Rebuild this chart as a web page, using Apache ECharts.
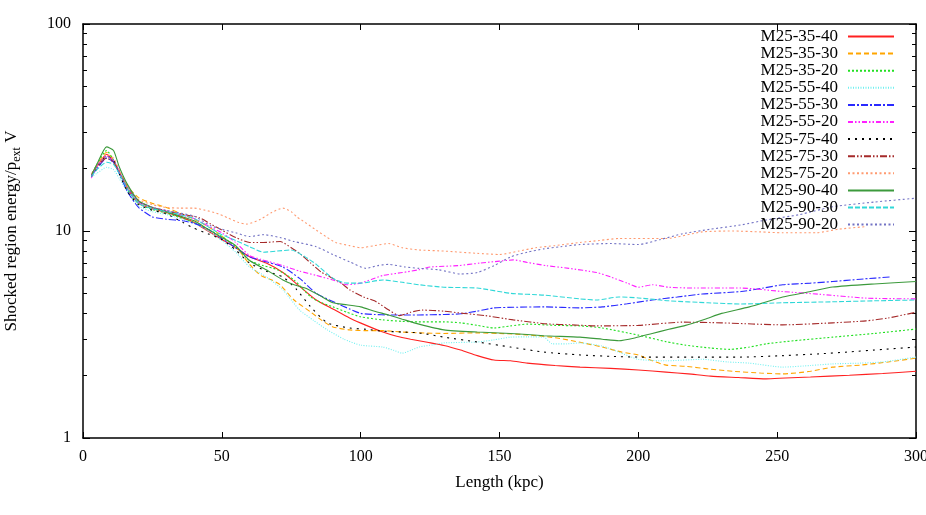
<!DOCTYPE html>
<html>
<head>
<meta charset="utf-8">
<script src="https://cdn.jsdelivr.net/npm/echarts/dist/echarts.min.js"></script>
<style>
html,body{margin:0;padding:0;background:#fff;}
#chart{width:926px;height:515px;}
</style>
</head>
<body>
<div id="chart"></div>
<script>
// ---- data (x = Length in kpc, y = Shocked region energy / p_ext V) ----
const M25_35_40 = [[3,18.8],[5,20.5],[8.5,23.5],[11,21.5],[13,19.3],[16,16],[20,13.6],[25,12.8],[30,12.3],[35,11.7],[40,11.0],[45,10.0],[50,9.1],[55,8.3],[60,7.5],[66,7.0],[72,6.3],[78,5.4],[84,4.64],[90,4.2],[96,3.8],[102,3.5],[108,3.25],[113,3.1],[118,3.0],[124,2.9],[130,2.8],[136,2.66],[142,2.5],[148,2.38],[154,2.36],[160,2.3],[170,2.24],[179,2.2],[190,2.17],[200,2.13],[210,2.08],[218,2.04],[226,1.99],[236,1.96],[246,1.93],[253,1.95],[262,1.97],[276,2.01],[288,2.05],[300,2.1]];
const M25_35_30 = [[3,18.6],[5,20.8],[8.5,24],[11,22],[13,19.5],[16,16.5],[20,14.5],[25,13.6],[30,13.0],[36,12.0],[40,11.4],[44,10.7],[48,9.9],[52,9.0],[56,8.1],[60,6.9],[64,6.1],[68,5.8],[71,5.5],[76,4.64],[82,4.06],[86,3.7],[90,3.44],[96,3.33],[102,3.3],[108,3.3],[115,3.25],[121,3.22],[130,3.2],[142,3.22],[150,3.2],[160,3.15],[170,3.05],[179,2.9],[187,2.75],[194,2.6],[200,2.52],[205,2.36],[210,2.25],[217,2.22],[226,2.15],[234,2.1],[244,2.06],[252,2.04],[262,2.1],[270,2.2],[280,2.25],[290,2.33],[300,2.43]];
const M25_35_20 = [[3,18.5],[5,21],[8.5,24.5],[11,22],[13,19],[16,15.8],[20,13.6],[25,12.7],[30,12.2],[35,11.6],[40,11.0],[45,10.2],[50,9.4],[55,8.4],[60,7.2],[65,6.8],[70,6.5],[76,5.8],[82,4.8],[86,4.5],[90,4.3],[95,4.05],[100,3.85],[108,3.72],[115,3.66],[121,3.64],[130,3.64],[136,3.6],[142,3.5],[148,3.4],[154,3.48],[160,3.55],[170,3.5],[179,3.48],[187,3.4],[200,3.14],[210,2.92],[217,2.81],[226,2.72],[233,2.68],[240,2.75],[246,2.85],[256,2.95],[270,3.07],[285,3.2],[300,3.36]];
const M25_55_40 = [[3,18.2],[5,19],[8.5,20.3],[11,19.8],[13,18],[16,15.5],[20,13.2],[25,12.4],[30,12],[35,11.5],[40,10.9],[45,10],[50,9.0],[55,7.9],[60,6.7],[66,6.0],[72,5.2],[78,4.15],[83,3.7],[88,3.33],[94,3.0],[100,2.81],[108,2.75],[112,2.65],[115,2.57],[118,2.65],[121,2.75],[126,2.82],[130,2.88],[142,2.91],[148,2.98],[154,3.07],[160,3.08],[166,3.07],[169,2.85],[174,2.85],[179,2.88],[187,2.78],[193,2.6],[200,2.4],[210,2.36],[223,2.4],[232,2.33],[240,2.3],[252,2.2],[262,2.24],[270,2.28],[280,2.3],[288,2.33],[300,2.46]];
const M25_55_30 = [[3,18.5],[5,20],[8.5,22.5],[11,21.5],[13,19],[16,15.5],[20,13],[25,11.7],[30,11.4],[36,11.2],[40,10.9],[45,10.2],[50,9.2],[55,8.3],[60,7.5],[66,7.1],[72,6.7],[78,5.9],[84,5.0],[91,4.5],[96,4.2],[100,4.0],[105,3.95],[110,3.93],[121,3.93],[130,3.95],[136,3.98],[142,4.1],[148,4.25],[155,4.28],[166,4.3],[179,4.25],[187,4.3],[196,4.45],[205,4.64],[214,4.8],[223,4.96],[237,5.1],[245,5.3],[252,5.5],[262,5.6],[270,5.7],[280,5.85],[291,6.0]];
const M25_55_20 = [[3,18],[5,20.5],[8.5,23],[11,22],[13,19.5],[16,16.2],[20,13.8],[25,13],[30,12.5],[35,12],[40,11.5],[45,10.6],[50,9.8],[55,8.8],[60,7.6],[64,7.3],[72,6.8],[78,6.4],[84,6.1],[90,5.8],[95,5.5],[100,5.6],[104,5.85],[108,6.1],[115,6.3],[121,6.5],[125,6.7],[135,6.8],[143,7.0],[150,7.15],[155,7.25],[160,7.05],[167,6.8],[175,6.6],[185,6.3],[190,6.0],[196,5.6],[200,5.35],[205,5.5],[211,5.35],[220,5.3],[237,5.3],[252,5.1],[265,4.95],[282,4.74],[300,4.7]];
const M25_75_40 = [[3,18.3],[5,20],[8.5,23],[11,22],[13,19],[16,15.5],[20,13.4],[25,12.6],[30,12.1],[36,11.0],[40,10.3],[45,9.7],[50,9.1],[55,8.1],[60,7.0],[66,6.4],[72,6.0],[77,5.2],[82,4.3],[88,3.6],[96,3.4],[102,3.35],[108,3.28],[115,3.25],[121,3.22],[130,3.07],[142,2.91],[154,2.75],[166,2.6],[179,2.52],[190,2.48],[200,2.46],[220,2.46],[237,2.46],[252,2.5],[265,2.55],[275,2.6],[288,2.68],[300,2.75]];
const M25_75_30 = [[3,18.6],[5,20.5],[8.5,22.5],[11,21.5],[13,19.5],[16,16.3],[20,13.9],[25,13],[30,12.5],[35,12.1],[42,11.6],[46,10.8],[50,10.1],[55,9.3],[60,8.8],[65,8.8],[71,8.9],[75,8.3],[78,7.8],[82,7.0],[86,6.3],[89,6.0],[93,5.6],[96,5.2],[101,4.8],[105,4.6],[109,4.25],[114,3.9],[118,4.05],[122,4.15],[130,4.1],[137,4.0],[145,3.9],[155,3.72],[167,3.56],[176,3.52],[185,3.48],[200,3.5],[216,3.63],[230,3.6],[252,3.52],[270,3.6],[282,3.68],[290,3.8],[300,4.05]];
const M25_75_20 = [[3,18.8],[5,20.8],[8.5,23.5],[11,22.5],[13,19.8],[16,16.5],[20,14.2],[25,13.4],[30,13.0],[35,12.9],[40,12.9],[44,12.6],[48,12.2],[52,11.6],[56,11.0],[59,10.8],[64,11.4],[68,12.3],[72,12.9],[75,12.4],[77,11.7],[80,11.0],[84,10.1],[88,9.3],[91,8.8],[96,8.5],[100,8.3],[105,8.5],[110,8.7],[115,8.3],[121,8.1],[130,8.0],[142,7.8],[150,7.7],[157,8.0],[163,8.3],[170,8.5],[179,8.8],[186,9.0],[193,9.2],[210,9.2],[223,9.9],[234,10.0],[244,9.9],[252,9.8],[264,9.8],[272,10.2],[282,10.5]];
const M25_90_40 = [[3,18.5],[5,21],[8.5,25.5],[11,24.5],[13,20.5],[16,16.8],[20,14],[25,13],[30,12.4],[35,11.8],[40,11.2],[45,10.2],[50,9.3],[55,8.5],[60,7.2],[66,6.5],[72,5.8],[76,5.5],[80,5.3],[85,4.9],[90,4.5],[95,4.4],[100,4.3],[105,4.1],[110,3.93],[115,3.75],[121,3.55],[130,3.33],[142,3.25],[154,3.2],[166,3.12],[179,3.07],[187,3.0],[193,2.95],[199,3.05],[205,3.2],[211,3.35],[217,3.5],[224,3.75],[230,4.0],[240,4.3],[252,4.8],[262,5.1],[270,5.36],[285,5.55],[300,5.7]];
const M25_90_30 = [[3,18.3],[5,19.8],[8.5,21.5],[11,21],[13,19],[16,16],[20,13.6],[25,12.8],[30,12.4],[35,12],[40,11.5],[45,10.5],[50,9.6],[55,9.0],[60,8.4],[65,7.9],[70,8.0],[75,8.1],[80,7.5],[84,6.9],[88,6.2],[91,5.8],[95,5.6],[100,5.6],[108,5.8],[115,5.65],[121,5.5],[130,5.35],[142,5.3],[154,5.0],[166,4.9],[179,4.7],[185,4.64],[193,4.8],[200,4.75],[211,4.6],[225,4.5],[237,4.44],[252,4.5],[270,4.55],[285,4.6],[300,4.64]];
const M25_90_20 = [[3,18.5],[5,20.3],[8.5,23],[11,22],[13,19.3],[16,16.2],[20,13.9],[25,13],[30,12.6],[35,12.2],[40,11.8],[46,10.6],[50,10.2],[55,9.8],[60,9.4],[65,9.6],[71,9.3],[76,8.9],[84,8.4],[90,7.7],[96,7.1],[102,6.6],[106,6.8],[110,6.9],[116,6.7],[121,6.6],[128,6.5],[136,6.2],[142,6.3],[148,6.8],[154,7.5],[160,7.9],[166,8.2],[172,8.4],[179,8.6],[190,8.7],[200,8.6],[208,9.1],[216,9.7],[226,10.2],[237,10.7],[246,11.3],[258,12.0],[270,13.1],[285,13.8],[300,14.4]];

const seriesNames = ['M25-35-40','M25-35-30','M25-35-20','M25-55-40','M25-55-30','M25-55-20','M25-75-40','M25-75-30','M25-75-20','M25-90-40','M25-90-30','M25-90-20'];
const seriesData = [M25_35_40,M25_35_30,M25_35_20,M25_55_40,M25_55_30,M25_55_20,M25_75_40,M25_75_30,M25_75_20,M25_90_40,M25_90_30,M25_90_20];

const xTicks = [0,50,100,150,200,250,300];
const yMajorTicks = [1,10,100];
const yMinorTicks = [2,3,4,5,6,7,8,9,20,30,40,50,60,70,80,90];

// ---- styles ----
const colors = ['#ff2020','#ffa500','#22e022','#70f0f0','#2a2aff','#ff20ff','#000000','#a52a2a','#ff9a70','#3c9a3c','#30d8d8','#7272c4'];
const dashes = ['solid',[5,3],[2,2],[1,1.5],[7,2,2,2],[5,2,1.5,2,1.5,2],[2,5],[7,2,1.5,2,1.5,2],[2,2.5],'solid',[5,2],[2,2.5]];

const FONT = 'Liberation Serif';

const chart = echarts.init(document.getElementById('chart'), null, {renderer:'canvas'});

function xAx(pos, showLabel){
  return {
    type:'value', position:pos, min:0, max:300, interval:50,
    axisLine:{show:true, onZero:false, lineStyle:{color:'#000', width:1.5}},
    axisTick:{show:true, inside:true, length:6, lineStyle:{color:'#000', width:1}},
    axisLabel:{show:showLabel, fontFamily:FONT, fontSize:16, color:'#000', margin:11,
      customValues: xTicks},
    splitLine:{show:false},
    name: showLabel ? 'Length (kpc)' : '',
    nameLocation:'middle', nameGap:36,
    nameTextStyle:{fontFamily:FONT, fontSize:17, color:'#000'}
  };
}
function yAx(pos, major, withName){
  return {
    type:'log', logBase:10, position:pos, min:1, max:100,
    axisLine:{show:major, onZero:false, lineStyle:{color:'#000', width:1.5}},
    axisTick:{show:true, inside:true, length: major ? 7 : 4,
      customValues: major ? yMajorTicks : yMinorTicks,
      lineStyle:{color:'#000', width:1}},
    axisLabel:{show: withName, fontFamily:FONT, fontSize:16, color:'#000', margin:12,
      customValues: yMajorTicks},
    splitLine:{show:false},
    minorTick:{show:false},
    name: withName ? 'Shocked region energy/p{sub|ext} V' : '',
    nameLocation:'middle', nameGap:60,
    nameTextStyle:{fontFamily:FONT, fontSize:17, color:'#000', lineHeight:22,
      rich:{sub:{fontFamily:FONT, fontSize:12, color:'#000', verticalAlign:'bottom', lineHeight:14}}}
  };
}

const series = seriesNames.map((n,i)=>({
  name:n, type:'line', xAxisIndex:0, yAxisIndex:0,
  data: seriesData[i],
  symbol:'none', showSymbol:false, smooth:0.2, clip:true,
  lineStyle:{color:colors[i], width:1.1, type:dashes[i]},
  itemStyle:{color:colors[i]},
  emphasis:{disabled:true},
  z: 2
}));

chart.setOption({
  animation:false,
  backgroundColor:'#fff',
  grid:{left:83, top:24, width:833, height:414, containLabel:false, outerBoundsMode:'none'},
  xAxis:[xAx('bottom', true), xAx('top', false)],
  yAxis:[yAx('left', true, true), yAx('left', false, false), yAx('right', true, false), yAx('right', false, false)],
  legend:{
    data: seriesNames, orient:'vertical', align:'right',
    right:26, top:23, itemWidth:46, itemHeight:10, itemGap:0.1,
    itemStyle:{opacity:0, borderWidth:0},
    textStyle:{fontFamily:FONT, fontSize:17, color:'#000', lineHeight:17, padding:[0,5,0,0]},
    selectedMode:false
  },
  series: series
});
</script>
</body>
</html>
